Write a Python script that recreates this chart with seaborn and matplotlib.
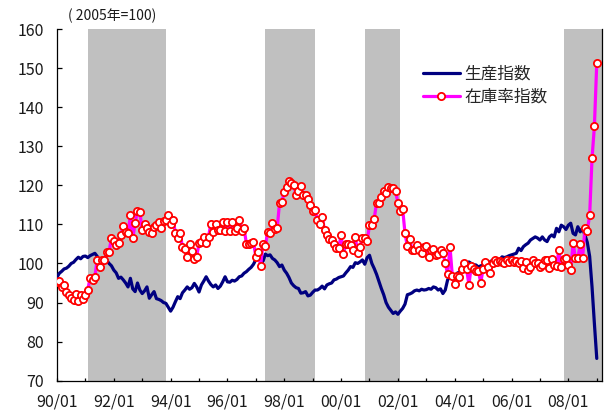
import numpy as np
import pandas as pd
import matplotlib
matplotlib.use("Agg")
import matplotlib.pyplot as plt
import seaborn as sns

# ---- data (monthly, 1990/01 - 2009/01, 2005=100) ----
ip = [
    96.5, 97.5, 98.0, 98.6, 98.8, 99.3, 100.0, 100.3, 101.0, 101.6, 101.2, 101.8,   # 1990
    101.9, 101.5, 102.0, 102.3, 102.6, 101.8, 100.6, 101.0, 100.5, 100.8, 100.0, 99.4,  # 1991
    98.3, 97.6, 96.2, 96.5, 95.8, 95.0, 94.0, 96.2, 93.5, 92.8, 95.0, 93.2,          # 1992
    92.3, 93.0, 94.0, 91.1, 92.0, 92.8, 91.0, 90.8, 90.5, 90.0, 89.8, 88.8,          # 1993
    87.8, 88.8, 90.2, 91.5, 91.0, 92.5, 93.2, 94.0, 93.4, 93.8, 94.9, 94.0,          # 1994
    92.7, 94.5, 95.5, 96.6, 95.5, 94.6, 94.0, 94.5, 93.6, 94.2, 95.3, 96.6,          # 1995
    95.3, 95.2, 95.7, 95.5, 95.9, 96.6, 96.8, 97.5, 97.9, 98.5, 99.0, 99.8,          # 1996
    101.0, 101.3, 102.0, 100.5, 102.4, 102.0, 102.2, 101.3, 100.9, 100.2, 99.2, 99.6,  # 1997
    98.3, 97.5, 96.4, 95.0, 94.3, 93.8, 93.6, 92.4, 92.5, 92.8, 91.7, 91.9,          # 1998
    92.6, 93.2, 93.2, 93.6, 94.2, 93.5, 94.5, 94.8, 95.0, 95.8, 96.0, 96.4,          # 1999
    96.6, 96.8, 97.6, 98.3, 99.2, 99.0, 100.2, 100.0, 100.4, 100.9, 99.8, 101.5,     # 2000
    102.1, 100.0, 98.7, 97.2, 95.4, 93.6, 92.0, 90.0, 88.8, 88.0, 87.2, 87.6,        # 2001
    87.0, 87.8, 88.5, 89.6, 92.0, 92.2, 92.5, 93.0, 93.2, 93.0, 93.4, 93.2,          # 2002
    93.3, 93.6, 93.4, 94.0, 93.8, 93.2, 93.5, 92.3, 93.2, 95.8, 96.6, 96.0,          # 2003
    96.4, 97.5, 97.8, 98.3, 99.3, 99.6, 100.4, 100.0, 99.7, 99.6, 99.1, 99.4,        # 2004
    99.6, 100.4, 100.2, 100.4, 100.9, 101.2, 101.0, 100.9, 101.7, 101.5, 101.7, 102.0,  # 2005
    102.2, 102.4, 102.6, 103.9, 103.3, 104.3, 104.8, 105.2, 106.0, 106.4, 106.8, 106.5,  # 2006
    106.0, 106.8, 106.0, 105.6, 106.8, 107.3, 106.8, 109.0, 108.1, 109.8, 109.4, 108.7,  # 2007
    109.8, 110.3, 107.7, 107.3, 109.4, 108.1, 109.0, 107.3, 105.4, 101.8, 94.0, 84.6,    # 2008
    75.7,                                                                              # 2009
]
ir = [
    95.2, 95.6, 94.0, 94.4, 92.8, 91.9, 91.1, 90.7, 92.3, 90.4, 91.9, 91.0,          # 1990
    92.0, 93.3, 96.3, 95.7, 96.6, 101.0, 99.2, 100.9, 100.8, 103.0, 103.0, 106.5,    # 1991
    105.8, 104.6, 105.3, 107.3, 109.6, 108.0, 107.8, 112.3, 106.4, 110.4, 113.4, 113.1,  # 1992
    108.6, 110.0, 109.2, 108.1, 107.9, 109.4, 109.8, 110.7, 109.1, 110.9, 111.1, 112.5,  # 1993
    110.2, 111.2, 107.9, 106.4, 107.9, 104.1, 103.8, 101.6, 105.0, 103.2, 101.1, 101.7,  # 1994
    105.2, 105.5, 106.8, 105.2, 106.8, 110.2, 108.1, 110.0, 108.5, 108.6, 110.7, 108.3,  # 1995
    110.7, 108.3, 110.7, 108.4, 109.2, 111.2, 108.3, 109.0, 105.1, 105.1, 105.2, 105.4,  # 1996
    101.7, 103.0, 99.3, 105.0, 104.4, 108.1, 107.7, 110.4, 108.7, 109.0, 115.5, 115.8,   # 1997
    118.3, 119.6, 121.2, 120.7, 120.0, 117.5, 118.5, 119.8, 117.5, 117.6, 116.4, 115.0,  # 1998
    113.5, 113.7, 111.1, 110.0, 112.0, 108.5, 107.4, 106.3, 105.9, 105.1, 104.0, 103.9,  # 1999
    107.3, 102.4, 105.1, 105.1, 104.7, 103.4, 106.8, 102.6, 104.3, 106.5, 106.4, 105.7,  # 2000
    109.8, 109.8, 111.5, 115.6, 115.6, 116.9, 118.6, 118.0, 119.6, 119.3, 119.4, 118.5,  # 2001
    115.6, 113.5, 114.0, 107.7, 104.4, 106.2, 103.4, 103.5, 104.7, 103.5, 102.7, 104.3,  # 2002
    104.4, 101.7, 103.4, 103.6, 102.1, 102.4, 103.4, 102.7, 100.2, 97.2, 104.3, 96.7,    # 2003
    94.7, 96.7, 96.6, 98.6, 100.2, 98.6, 94.6, 99.4, 98.6, 98.2, 98.0, 95.1,            # 2004
    98.7, 100.5, 99.0, 97.6, 100.2, 100.9, 100.4, 100.7, 100.4, 100.2, 100.9, 100.4,     # 2005
    100.9, 100.4, 100.7, 100.0, 100.6, 98.8, 100.4, 98.3, 99.1, 100.9, 100.0, 100.2,     # 2006
    99.1, 99.6, 100.9, 100.9, 98.9, 101.1, 99.7, 99.3, 103.5, 99.1, 101.1, 101.3,        # 2007
    99.7, 98.3, 105.3, 101.3, 101.3, 105.0, 101.3, 109.0, 108.4, 112.4, 126.9, 135.1,    # 2008
    151.3,                                                                             # 2009
]
series_names = ["生産指数", "在庫率指数"]
tick_labels = ["90/01", "", "92/01", "", "94/01", "", "96/01", "", "98/01", "",
               "00/01", "", "02/01", "", "04/01", "", "06/01", "", "08/01", ""]
recessions = [("1991-02", "1993-10"), ("1997-05", "1999-01"),
              ("2000-11", "2002-01"), ("2007-11", "2009-02")]
unit_note = "( 2005年=100)"


def month_index(s):
    y, m = map(int, s.split("-"))
    return (y - 1990) * 12 + (m - 1)


sns.set_style("ticks")
plt.rcParams["font.family"] = ["Noto Sans CJK JP", "DejaVu Sans"]

W, H = 604, 411
fig = plt.figure(figsize=(W / 100, H / 100), dpi=100)
ax = fig.add_axes([57 / W, 1 - 380.7 / H, (601.5 - 57) / W, (380.7 - 29) / H])

XMAX = 230
df = pd.DataFrame({"month": np.arange(len(ip)),
                   series_names[0]: ip,
                   series_names[1]: ir})

for s, e in recessions:
    ax.axvspan(month_index(s), min(month_index(e) + 1, XMAX),
               color="#C0C0C0", lw=0, zorder=0)

sns.lineplot(data=df, x="month", y=series_names[0], ax=ax, color="#000080",
             lw=2.3, label=series_names[0], zorder=3)
sns.lineplot(data=df, x="month", y=series_names[1], ax=ax, color="#FF00FF",
             lw=2.3, marker="o", markersize=5.2, markerfacecolor="white",
             markeredgecolor="#FF0000", markeredgewidth=1.3,
             label=series_names[1], zorder=4)

ax.set_xlim(0, XMAX)
ax.set_ylim(70, 160)
ax.set_yticks(np.arange(70, 161, 10))
ax.set_xticks(np.arange(0, 12 * len(tick_labels), 12))
ax.set_xticklabels(tick_labels)
ax.set_xlabel("")
ax.set_ylabel("")

for side in ["left", "bottom", "right"]:
    ax.spines[side].set_visible(True)
    ax.spines[side].set_color("black")
    ax.spines[side].set_linewidth(0.9)
ax.spines["top"].set_visible(False)

ax.tick_params(axis="y", direction="in", length=3.5, width=0.9, color="black",
               labelsize=11.5, pad=9.5, labelcolor="#1a1a1a")
ax.tick_params(axis="x", direction="in", length=2.5, width=0.9, color="black",
               labelsize=11.5, pad=9, labelcolor="#1a1a1a")

ax.legend(loc="upper left", bbox_to_anchor=(0.672, 0.895), frameon=False,
          fontsize=12, handlelength=2.2, handletextpad=0.3, labelspacing=0.35,
          borderpad=0, borderaxespad=0)

fig.text(68 / W, 1 - 16 / H, unit_note, fontsize=10, va="center", ha="left",
         color="#1a1a1a")

fig.savefig("out.png", dpi=100)
